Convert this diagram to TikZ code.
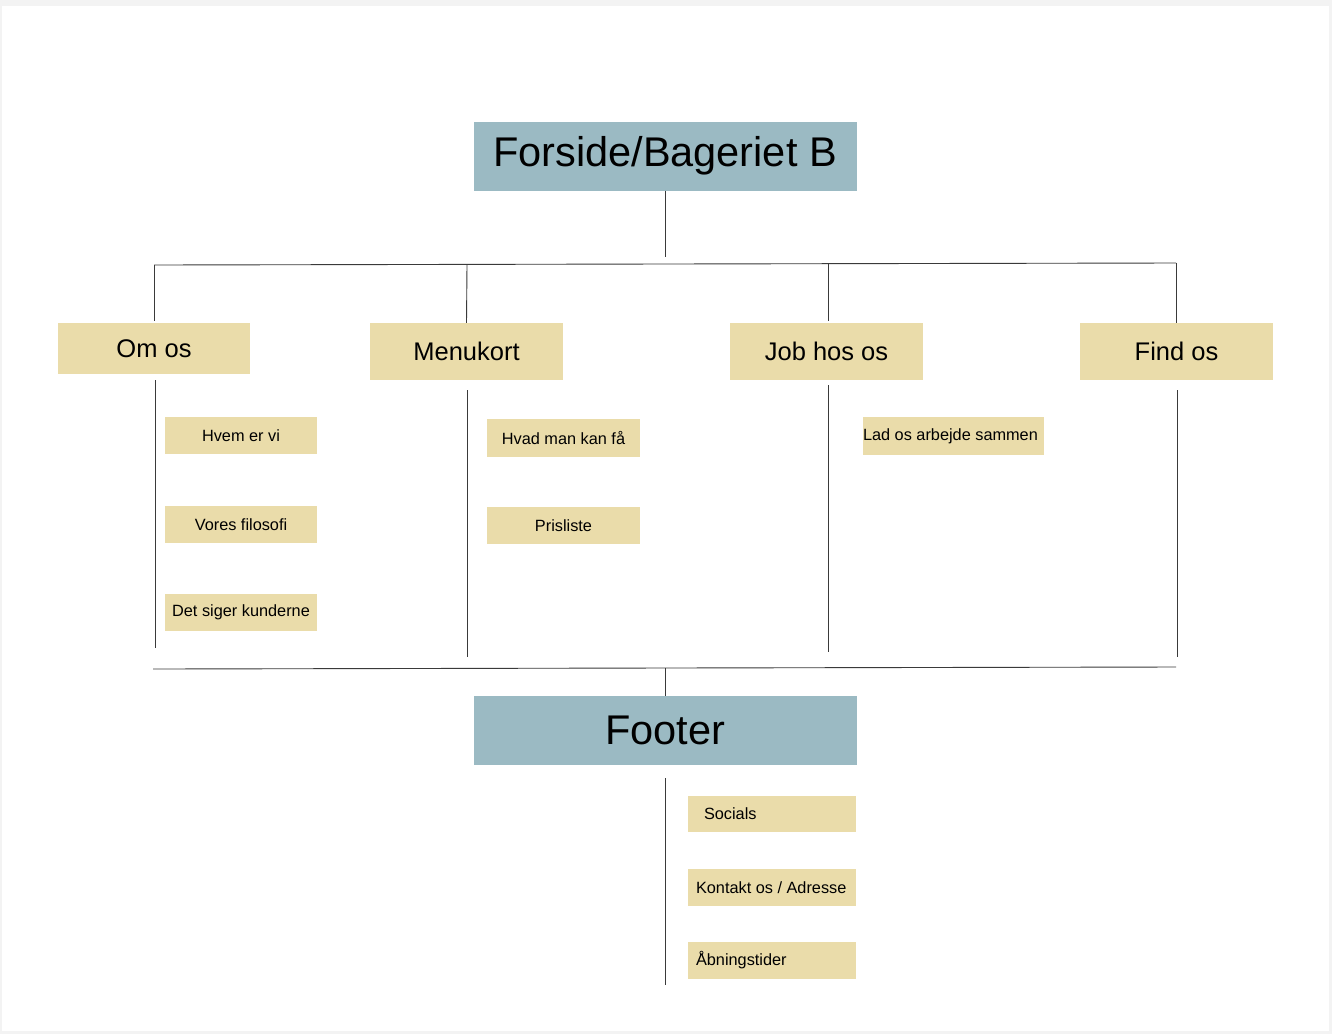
\documentclass[tikz,border=0pt]{standalone}
\usepackage{fontspec}
\setmainfont{Liberation Sans}
\definecolor{blueboxc}{HTML}{9BBAC3}
\definecolor{yellowboxc}{HTML}{EADCAA}
\definecolor{linec}{HTML}{3A3A3A}
\definecolor{framec}{HTML}{F3F3F3}
\begin{document}
\begin{tikzpicture}[x=1pt,y=-1pt,
  bigbox/.style={fill=blueboxc, inner sep=0pt, minimum width=383pt, minimum height=69pt, font=\fontsize{41.5}{46}\selectfont, text=black},
  catbox/.style={fill=yellowboxc, inner sep=0pt, minimum width=193pt, minimum height=57pt, font=\fontsize{25.5}{30}\selectfont, text=black},
  smallbox/.style={fill=yellowboxc, inner sep=0pt, minimum width=153pt, minimum height=37pt, font=\fontsize{16.3}{19}\selectfont, text=black},
  conn/.style={draw=linec, line width=0.9pt}]
\useasboundingbox (0,0) rectangle (1332,1034);
\fill[framec] (0,0) rectangle (1332,1034);
\fill[white] (2,6) rectangle (1329,1031);

% main nodes
\node[bigbox] (top) at (665,156) {Forside/Bageriet B};
\node[bigbox] (footer) at (665,730.5) {Footer};

\node[catbox, minimum width=192pt, minimum height=51pt] (omos) at (154,348.5) {Om os};
\node[catbox] (menu) at (466.5,351.5) {Menukort};
\node[catbox] (job) at (826.5,351.5) {Job hos os};
\node[catbox] (find) at (1176.5,351.5) {Find os};

\node[smallbox, minimum width=152pt] (hvem) at (241,435.5) {Hvem er vi};
\node[smallbox, minimum width=152pt] (vores) at (241,524.5) {Vores filosofi};
\node[smallbox, minimum width=152pt] (kunder) at (241,612.5) {Det siger kunderne};
\node[smallbox, minimum height=38pt] (hvad) at (563.5,438) {Hvad man kan få};
\node[smallbox] (pris) at (563.5,525.5) {Prisliste};
\node[smallbox, minimum width=181pt, minimum height=38pt] (lad) at (953.5,436) {\makebox[181pt][l]{Lad os arbejde sammen}};

\node[smallbox, minimum width=168pt, minimum height=36pt] (socials) at (772,814) {\makebox[136pt][l]{Socials}};
\node[smallbox, minimum width=168pt] (kontakt) at (772,887.5) {\makebox[152pt][l]{Kontakt os / Adresse}};
\node[smallbox, minimum width=168pt] (aabning) at (772,960.5) {\makebox[152pt][l]{Åbningstider}};

% junction coordinates
\coordinate (topdown) at (665,257);
\coordinate (hl) at (154,265);
\coordinate (hr) at (1176,263);
\coordinate (j1) at (154,265);
\coordinate (j2) at (467,264.4);
\coordinate (j3) at (828,263.7);
\coordinate (j4) at (1176,263);

\coordinate (s1) at (155,380);
\coordinate (e1) at (155,648);
\coordinate (s2) at (467.5,390);
\coordinate (e2) at (467.5,657);
\coordinate (s3) at (828,385);
\coordinate (e3) at (828,652);
\coordinate (s4) at (1177,390);
\coordinate (e4) at (1177,657);

\coordinate (bl) at (153,669);
\coordinate (br) at (1176,667);
\coordinate (bm) at (665,668);
\coordinate (fs) at (665,778);
\coordinate (fe) at (665,985);

% connectors
\draw[conn] (top.south) -- (topdown);
\draw[conn] (hl) -- (hr);
\draw[conn] (j1) -- (154,321);
\draw[conn] (j2) -- (menu.north);
\draw[conn] (j3) -- (828,321);
\draw[conn] (j4) -- (find.north -| j4);
\draw[conn] (s1) -- (e1);
\draw[conn] (s2) -- (e2);
\draw[conn] (s3) -- (e3);
\draw[conn] (s4) -- (e4);
\draw[conn] (bl) -- (br);
\draw[conn] (bm) -- (footer.north);
\draw[conn] (fs) -- (fe);
\end{tikzpicture}
\end{document}
